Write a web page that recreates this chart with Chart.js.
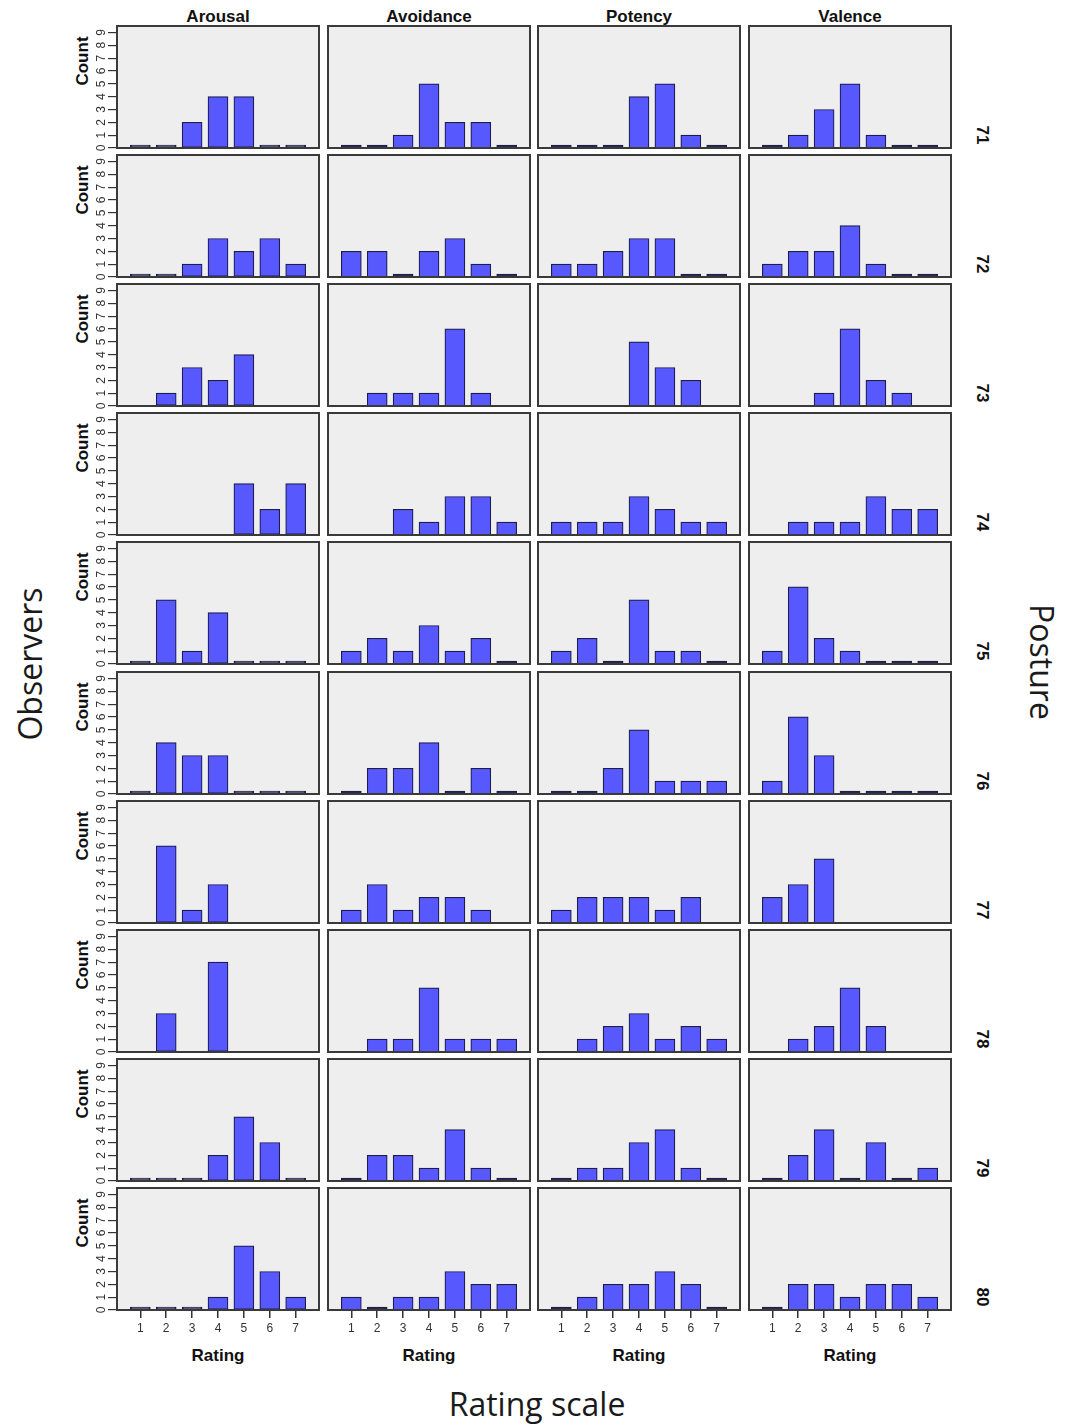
<!DOCTYPE html>
<html>
<head>
<meta charset="utf-8">
<script src="https://cdn.jsdelivr.net/npm/chart.js@4.4.1/dist/chart.umd.min.js"></script>
<style>
  html, body { margin: 0; padding: 0; background: #fff; }
  body { position: relative; width: 1069px; height: 1426px; overflow: hidden;
         font-family: "Liberation Sans", Arial, sans-serif; }
  canvas { position: absolute; }
  .lbl { position: absolute; font-weight: bold; font-size: 17px; color: #111;
         white-space: nowrap; line-height: 1; }
  .big { position: absolute; font-family: "Open Sans", sans-serif; font-size: 32px;
         color: #1a1a1a; white-space: nowrap; line-height: 1; }
</style>
</head>
<body>
<script>
// Rating categories on the x axis of every panel
const ratings = [1, 2, 3, 4, 5, 6, 7];
// Column facets and row facets
const dimensions = ['Arousal', 'Avoidance', 'Potency', 'Valence'];
const postures = ['71', '72', '73', '74', '75', '76', '77', '78', '79', '80'];
// Y axis tick values (Count)
const countTicks = [0, 1, 2, 3, 4, 5, 6, 7, 8, 9];

// Counts per rating (1..7), one row per posture; null = category absent
const arousal = [
  [0, 0, 2, 4, 4, 0, 0],
  [0, 0, 1, 3, 2, 3, 1],
  [null, 1, 3, 2, 4, null, null],
  [null, null, null, null, 4, 2, 4],
  [0, 5, 1, 4, 0, 0, 0],
  [0, 4, 3, 3, 0, 0, 0],
  [null, 6, 1, 3, null, null, null],
  [null, 3, null, 7, null, null, null],
  [0, 0, 0, 2, 5, 3, 0],
  [0, 0, 0, 1, 5, 3, 1]
];
const avoidance = [
  [0, 0, 1, 5, 2, 2, 0],
  [2, 2, 0, 2, 3, 1, 0],
  [null, 1, 1, 1, 6, 1, null],
  [null, null, 2, 1, 3, 3, 1],
  [1, 2, 1, 3, 1, 2, 0],
  [0, 2, 2, 4, 0, 2, 0],
  [1, 3, 1, 2, 2, 1, null],
  [null, 1, 1, 5, 1, 1, 1],
  [0, 2, 2, 1, 4, 1, 0],
  [1, 0, 1, 1, 3, 2, 2]
];
const potency = [
  [0, 0, 0, 4, 5, 1, 0],
  [1, 1, 2, 3, 3, 0, 0],
  [null, null, null, 5, 3, 2, null],
  [1, 1, 1, 3, 2, 1, 1],
  [1, 2, 0, 5, 1, 1, 0],
  [0, 0, 2, 5, 1, 1, 1],
  [1, 2, 2, 2, 1, 2, null],
  [null, 1, 2, 3, 1, 2, 1],
  [0, 1, 1, 3, 4, 1, 0],
  [0, 1, 2, 2, 3, 2, 0]
];
const valence = [
  [0, 1, 3, 5, 1, 0, 0],
  [1, 2, 2, 4, 1, 0, 0],
  [null, null, 1, 6, 2, 1, null],
  [null, 1, 1, 1, 3, 2, 2],
  [1, 6, 2, 1, 0, 0, 0],
  [1, 6, 3, 0, 0, 0, 0],
  [2, 3, 5, null, null, null, null],
  [null, 1, 2, 5, 2, null, null],
  [0, 2, 4, 0, 3, 0, 1],
  [0, 2, 2, 1, 2, 2, 1]
];
const seriesByDimension = [arousal, avoidance, potency, valence];

// Panel geometry
const COL_LEFT = [117, 328, 538, 749];
const ROW_TOP0 = 26, ROW_PITCH = 129.1;
const PANEL_W = 202, PANEL_H = 122;
const PAD_L = 45, PAD_T = 4, PAD_R = 4, PAD_B = 30;

const BAR_FILL = '#5858ff';
const BAR_EDGE = '#1c1c50';
const ZERO_FILL = '#2a2a4a';

function addText(cls, text, x, y, rot, extra) {
  const d = document.createElement('div');
  d.className = cls;
  d.textContent = text;
  d.style.left = x + 'px';
  d.style.top = y + 'px';
  d.style.transform = 'translate(-50%,-50%)' + (rot ? ' rotate(' + rot + 'deg)' : '');
  if (extra) Object.assign(d.style, extra);
  document.body.appendChild(d);
}

// Draws the grey panel background, its frame and the rotated count labels
const panelFrame = {
  id: 'panelFrame',
  beforeDraw(chart) {
    const a = chart.chartArea, ctx = chart.ctx;
    ctx.save();
    ctx.fillStyle = '#eeeeee';
    ctx.fillRect(a.left, a.top, a.right - a.left, a.bottom - a.top);
    ctx.restore();
  },
  afterDraw(chart, args, opts) {
    const a = chart.chartArea, ctx = chart.ctx;
    ctx.save();
    ctx.strokeStyle = '#3a3a3a';
    ctx.lineWidth = 2;
    ctx.strokeRect(a.left, a.top, a.right - a.left, a.bottom - a.top);
    if (opts.yLabels) {
      const ys = chart.scales.y;
      ctx.fillStyle = '#333';
      ctx.font = '12px "Liberation Sans", Arial, sans-serif';
      ctx.textAlign = 'center';
      ctx.textBaseline = 'middle';
      countTicks.forEach(v => {
        ctx.save();
        ctx.translate(a.left - 15, ys.getPixelForValue(v));
        ctx.rotate(-Math.PI / 2);
        ctx.fillText(String(v), 0, 0);
        ctx.restore();
      });
    }
    ctx.restore();
  }
};

function rowTop(r) { return Math.round(ROW_TOP0 + r * ROW_PITCH); }

dimensions.forEach((dim, c) => {
  addText('lbl', dim, COL_LEFT[c] + PANEL_W / 2, 16, 0);
  addText('lbl', 'Rating', COL_LEFT[c] + PANEL_W / 2, 1355, 0);
});

postures.forEach((p, r) => {
  addText('lbl', 'Count', 82, rowTop(r) + 35, -90);
  addText('lbl', p, 982, rowTop(r) + 109, 90);
});

addText('big', 'Observers', 30, 664, -90);
addText('big', 'Posture', 1042, 662, 90);
addText('big', 'Rating scale', 537, 1404, 0);

postures.forEach((p, r) => {
  dimensions.forEach((dim, c) => {
    const firstCol = c === 0;
    const lastRow = r === postures.length - 1;
    const cv = document.createElement('canvas');
    const w = PAD_L + PANEL_W + PAD_R, h = PAD_T + PANEL_H + PAD_B;
    cv.width = w; cv.height = h;
    cv.style.width = w + 'px'; cv.style.height = h + 'px';
    cv.style.left = (COL_LEFT[c] - PAD_L) + 'px';
    cv.style.top = (rowTop(r) - PAD_T) + 'px';
    document.body.appendChild(cv);

    const values = seriesByDimension[c][r];
    new Chart(cv, {
      type: 'bar',
      data: {
        datasets: [{
          data: ratings.map((x, i) => ({ x: x, y: values[i] })),
          backgroundColor: ctx => (ctx.raw && ctx.raw.y === 0 ? ZERO_FILL : BAR_FILL),
          borderColor: BAR_EDGE,
          borderWidth: 1.2,
          borderSkipped: false,
          barThickness: 20,
          minBarLength: 3,
          clip: false
        }]
      },
      options: {
        responsive: false,
        animation: false,
        devicePixelRatio: 1,
        events: [],
        layout: { padding: { left: 0, top: PAD_T, right: PAD_R, bottom: 0 } },
        plugins: {
          legend: { display: false },
          tooltip: { enabled: false },
          panelFrame: { yLabels: firstCol }
        },
        scales: {
          x: {
            type: 'linear',
            offset: false,
            min: 0.1,
            max: 7.9,
            afterBuildTicks: s => { s.ticks = ratings.map(v => ({ value: v })); },
            afterFit: s => { s.height = PAD_B; },
            ticks: {
              display: lastRow,
              autoSkip: false,
              maxRotation: 0,
              padding: 3,
              color: '#333',
              font: { family: '"Liberation Sans", Arial, sans-serif', size: 12 }
            },
            grid: { display: lastRow, offset: false, drawOnChartArea: false, tickLength: 8, color: '#333', lineWidth: 1.5 },
            border: { display: false }
          },
          y: {
            type: 'linear',
            min: 0,
            max: 9.5,
            afterBuildTicks: s => { s.ticks = countTicks.map(v => ({ value: v })); },
            afterFit: s => { s.width = PAD_L; },
            ticks: { display: false },
            grid: { display: firstCol, drawOnChartArea: false, tickLength: 9, color: '#333', lineWidth: 1.2 },
            border: { display: false }
          }
        }
      },
      plugins: [panelFrame]
    });
  });
});
</script>
</body>
</html>
